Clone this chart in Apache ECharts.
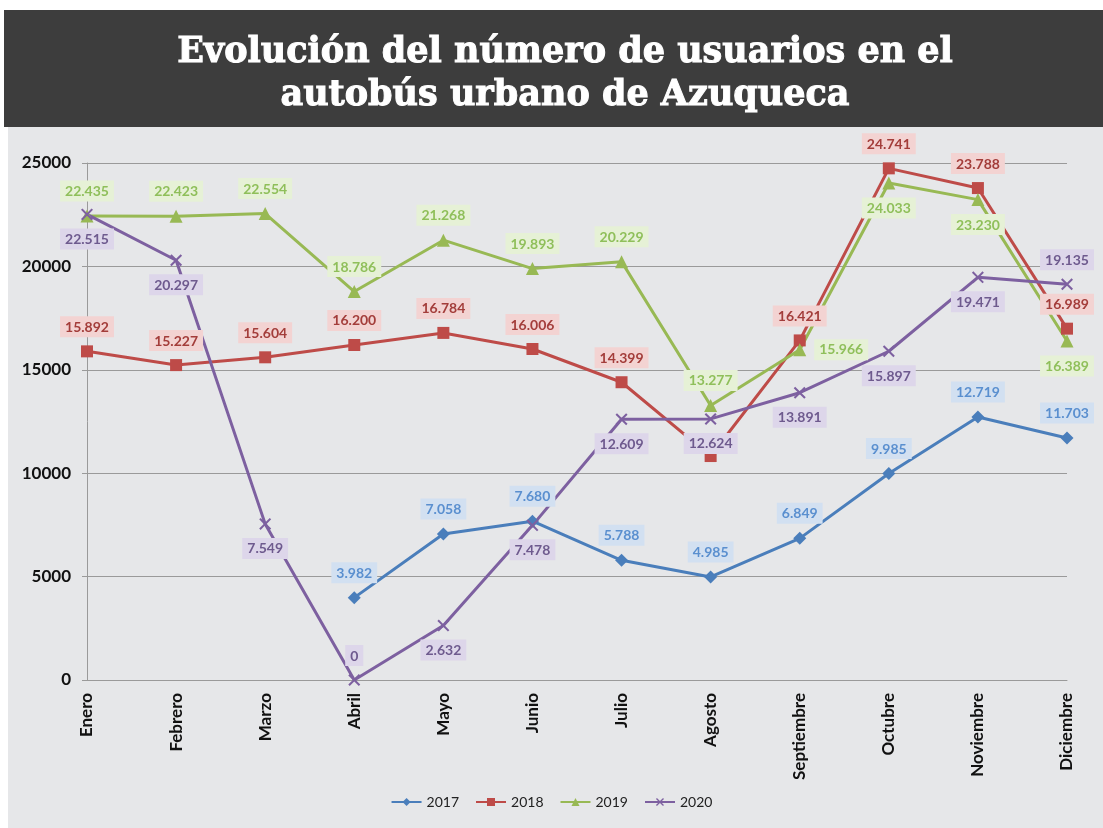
<!DOCTYPE html>
<html>
<head>
<meta charset="utf-8">
<script src="https://cdn.jsdelivr.net/npm/echarts@6/dist/echarts.min.js"></script>
<style>
  html, body { margin: 0; padding: 0; background: #fff; }
  #chart { width: 1103px; height: 828px; }
</style>
</head>
<body>
<div id="chart"></div>
<script>
// meses
const months = ['Enero', 'Febrero', 'Marzo', 'Abril', 'Mayo', 'Junio', 'Julio',
  'Agosto', 'Septiembre', 'Octubre', 'Noviembre', 'Diciembre'];

// usuarios por año (2017 empieza en abril)
const v2017 = [null, null, null, 3982, 7058, 7680, 5788, 4985, 6849, 9985, 12719, 11703];
const v2018 = [15892, 15227, 15604, 16200, 16784, 16006, 14399, 10830, 16421, 24741, 23788, 16989];
const v2019 = [22435, 22423, 22554, 18786, 21268, 19893, 20229, 13277, 15966, 24033, 23230, 16389];
const v2020 = [22515, 20297, 7549, 0, 2632, 7478, 12609, 12624, 13891, 15897, 19471, 19135];

const yTicks = [0, 5000, 10000, 15000, 20000, 25000];

// where each label sits
const pos2017 = Array(12).fill('top');
const pos2018 = Array(12).fill('top');
const pos2019 = ['top', 'top', 'top', 'top', 'top', 'top', 'top', 'top', 'right', 'bottom', 'bottom', 'bottom'];
const pos2020 = ['bottom', 'bottom', 'bottom', 'top', 'bottom', 'bottom', 'bottom', 'bottom', 'bottom', 'bottom', 'bottom', 'top'];
const hide2018 = [7]; // label covered in the original

const fmt = v => String(v).replace(/\B(?=(\d{3})+(?!\d))/g, '.');

const xMark = 'path://M0,1.2L1.2,0L5,3.8L8.8,0L10,1.2L6.2,5L10,8.8L8.8,10L5,6.2L1.2,10L0,8.8L3.8,5Z';

function mkSeries(name, vals, pos, color, txt, bg, symbol, size, hidden) {
  return {
    name: name,
    type: 'line',
    data: vals.map((v, i) => ({
      value: v,
      label: {
        show: v !== null && !(hidden || []).includes(i),
        position: pos[i]
      }
    })),
    symbol: symbol,
    symbolSize: size,
    showAllSymbol: true,
    lineStyle: { color: color, width: 3 },
    itemStyle: { color: color },
    label: {
      formatter: p => fmt(p.value),
      color: txt,
      backgroundColor: bg,
      fontFamily: 'Lato',
      fontWeight: 'bold',
      fontSize: 14,
      padding: [4, 5, 3, 5],
      distance: 8
    },
    emphasis: { disabled: true },
    animation: false
  };
}

const chart = echarts.init(document.getElementById('chart'));
chart.setOption({
  animation: false,
  backgroundColor: '#ffffff',
  graphic: [
    { type: 'rect', z: -10, shape: { x: 8, y: 127, width: 1095, height: 701 }, style: { fill: '#e6e7e9' } },
    { type: 'rect', z: -10, shape: { x: 4, y: 10, width: 1099, height: 117 }, style: { fill: '#3d3d3d' } }
  ],
  title: {
    text: 'Evolución del número de usuarios en el\nautobús urbano de Azuqueca',
    left: 560,
    top: 26,
    textAlign: 'center',
    textStyle: {
      color: '#ffffff',
      fontFamily: '"DejaVu Serif", serif',
      fontWeight: 900,
      fontSize: 35,
      lineHeight: 43,
      textBorderColor: '#ffffff',
      textBorderWidth: 1
    }
  },
  legend: {
    bottom: 14,
    left: 'center',
    itemWidth: 30,
    itemHeight: 10,
    itemGap: 16,
    textStyle: { fontFamily: 'Lato', fontSize: 14, color: '#222' },
    data: ['2017', '2018', '2019', '2020']
  },
  grid: { left: 87, right: 36, top: 163, bottom: 148 },
  xAxis: {
    type: 'category',
    data: months,
    boundaryGap: false,
    axisLine: { show: true, lineStyle: { color: '#9a9a9a', width: 1 } },
    axisTick: { show: false },
    axisLabel: {
      rotate: 90,
      interval: 0,
      margin: 13,
      color: '#111',
      fontFamily: 'Lato',
      fontWeight: 'bold',
      fontSize: 17
    },
    splitLine: { show: false }
  },
  yAxis: {
    type: 'value',
    min: yTicks[0],
    max: yTicks[yTicks.length - 1],
    interval: yTicks[1] - yTicks[0],
    axisLine: { show: true, lineStyle: { color: '#9a9a9a', width: 1 } },
    axisTick: { show: true, length: 5, lineStyle: { color: '#9a9a9a' } },
    axisLabel: {
      margin: 16,
      color: '#111',
      fontFamily: 'Lato',
      fontWeight: 'bold',
      fontSize: 17,
      formatter: v => String(v)
    },
    splitLine: { lineStyle: { color: '#9a9a9a', width: 1 } }
  },
  series: [
    mkSeries('2017', v2017, pos2017, '#4a7ebb', '#5a8fcf', '#d2e0f1', 'diamond', 13),
    mkSeries('2018', v2018, pos2018, '#be4b48', '#a33d3a', '#f3d3d2', 'rect', 12, hide2018),
    mkSeries('2019', v2019, pos2019, '#98b954', '#8fbf5a', '#e6f1d6', 'triangle', 13),
    mkSeries('2020', v2020, pos2020, '#7d60a0', '#6e5a8e', '#ddd6ea', xMark, 12)
  ]
});
</script>
</body>
</html>
